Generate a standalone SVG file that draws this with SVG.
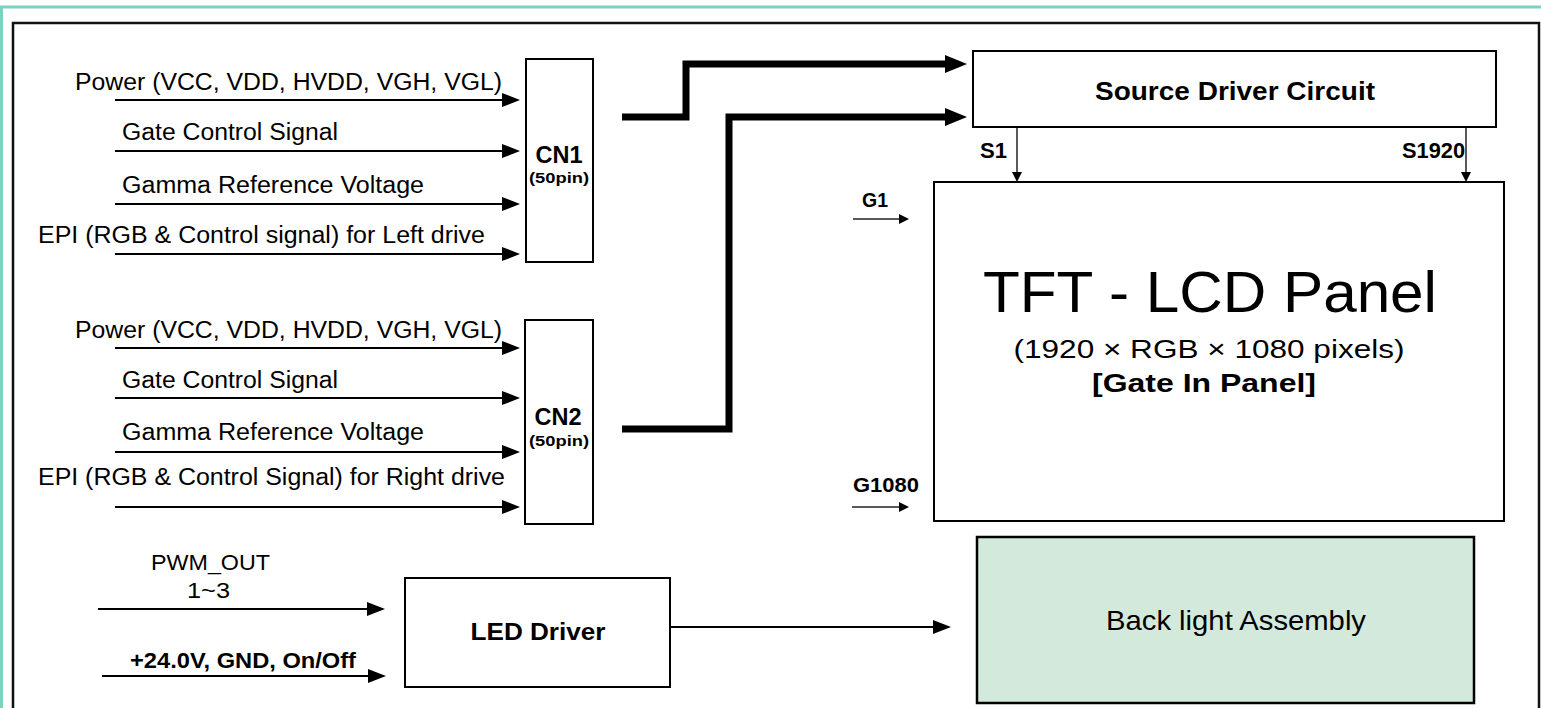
<svg xmlns="http://www.w3.org/2000/svg" width="1541" height="708" viewBox="0 0 1541 708">
<style>
.t{font-family:"Liberation Sans",Arial,Helvetica,sans-serif;fill:#000}
.b{font-weight:bold}
.m{text-anchor:middle}
.box{fill:#fff;stroke:#000;stroke-width:2}
.sig{stroke:#000;stroke-width:2.2;fill:none}
.thick{stroke:#000;stroke-width:7;fill:none}
.fine{stroke:#222;stroke-width:1.5;fill:none}
</style>
<defs>
<marker id="ah" markerUnits="userSpaceOnUse" viewBox="0 0 18 14" refX="14" refY="7" markerWidth="18" markerHeight="14" orient="auto"><path d="M0,0 L18,7 L0,14 z" fill="#000"/></marker>
<marker id="ahT" markerUnits="userSpaceOnUse" viewBox="0 0 22 18" refX="12" refY="9" markerWidth="22" markerHeight="18" orient="auto"><path d="M0,0 L22,9 L0,18 z" fill="#000"/></marker>
<marker id="ahS" markerUnits="userSpaceOnUse" viewBox="0 0 10 10" refX="8" refY="5" markerWidth="10" markerHeight="10" orient="auto"><path d="M0,0 L10,5 L0,10 z" fill="#000"/></marker>
</defs>
<rect width="1541" height="708" fill="#fff"/>
<g id="frame">
<path d="M1.5,708 V7 H1541" fill="none" stroke="#7fd0bf" stroke-width="3"/>
<path d="M13,708 V23 H1539 V708" fill="none" stroke="#111" stroke-width="2.5"/>
</g>
<g id="connectors">
<line class="sig" x1="115" y1="100" x2="516" y2="100" marker-end="url(#ah)"/>
<line class="sig" x1="115" y1="151" x2="516" y2="151" marker-end="url(#ah)"/>
<line class="sig" x1="115" y1="204" x2="516" y2="204" marker-end="url(#ah)"/>
<line class="sig" x1="115" y1="254" x2="516" y2="254" marker-end="url(#ah)"/>
<line class="sig" x1="115" y1="348" x2="516" y2="348" marker-end="url(#ah)"/>
<line class="sig" x1="115" y1="398" x2="516" y2="398" marker-end="url(#ah)"/>
<line class="sig" x1="115" y1="452" x2="516" y2="452" marker-end="url(#ah)"/>
<line class="sig" x1="115" y1="507" x2="516" y2="507" marker-end="url(#ah)"/>
<path class="thick" d="M622,117 H686 V64 H957" marker-end="url(#ahT)"/>
<path class="thick" d="M622,429 H729 V117 H957" marker-end="url(#ahT)"/>
<line class="fine" x1="1017" y1="127" x2="1017" y2="180" marker-end="url(#ahS)"/>
<line class="fine" x1="1466" y1="127" x2="1466" y2="180" marker-end="url(#ahS)"/>
<line class="fine" x1="853" y1="219" x2="907" y2="219" marker-end="url(#ahS)"/>
<line class="fine" x1="852" y1="507" x2="907" y2="507" marker-end="url(#ahS)"/>
<line class="sig" x1="98" y1="609" x2="381" y2="609" marker-end="url(#ah)"/>
<line class="sig" x1="102" y1="676" x2="382" y2="676" marker-end="url(#ah)"/>
<line class="sig" x1="670" y1="627" x2="947" y2="627" marker-end="url(#ah)"/>
</g>
<g id="labels-cn1">
<text class="t" x="75" y="90" font-size="23" textLength="427" lengthAdjust="spacingAndGlyphs">Power (VCC, VDD, HVDD, VGH, VGL)</text>
<text class="t" x="122" y="140" font-size="23" textLength="216" lengthAdjust="spacingAndGlyphs">Gate Control Signal</text>
<text class="t" x="122" y="193" font-size="23" textLength="302" lengthAdjust="spacingAndGlyphs">Gamma Reference Voltage</text>
<text class="t" x="38" y="243" font-size="23" textLength="447" lengthAdjust="spacingAndGlyphs">EPI (RGB &amp; Control signal) for Left drive</text>
</g>
<g id="labels-cn2">
<text class="t" x="75" y="338" font-size="23" textLength="427" lengthAdjust="spacingAndGlyphs">Power (VCC, VDD, HVDD, VGH, VGL)</text>
<text class="t" x="122" y="388" font-size="23" textLength="216" lengthAdjust="spacingAndGlyphs">Gate Control Signal</text>
<text class="t" x="122" y="440" font-size="23" textLength="302" lengthAdjust="spacingAndGlyphs">Gamma Reference Voltage</text>
<text class="t" x="38" y="485" font-size="23" textLength="467" lengthAdjust="spacingAndGlyphs">EPI (RGB &amp; Control Signal) for Right drive</text>
</g>
<g id="cn1">
<rect class="box" x="526" y="59" width="67" height="203"/>
<text class="t b m" x="559" y="163" font-size="23" textLength="47" lengthAdjust="spacingAndGlyphs">CN1</text>
<text class="t b m" x="559" y="183" font-size="15" textLength="60" lengthAdjust="spacingAndGlyphs">(50pin)</text>
</g>
<g id="cn2">
<rect class="box" x="525" y="320" width="68" height="204"/>
<text class="t b m" x="558" y="425" font-size="23" textLength="47" lengthAdjust="spacingAndGlyphs">CN2</text>
<text class="t b m" x="559" y="446" font-size="15" textLength="60" lengthAdjust="spacingAndGlyphs">(50pin)</text>
</g>
<g id="source-driver">
<rect class="box" x="973" y="51" width="523" height="76"/>
<text class="t b m" x="1235" y="100" font-size="25" textLength="280" lengthAdjust="spacingAndGlyphs">Source Driver Circuit</text>
</g>
<g id="source-labels">
<text class="t b" x="980" y="158" font-size="22" textLength="27" lengthAdjust="spacingAndGlyphs">S1</text>
<text class="t b" x="1402" y="158" font-size="22" textLength="63" lengthAdjust="spacingAndGlyphs">S1920</text>
</g>
<g id="gate-labels">
<text class="t b" x="862" y="207" font-size="21" textLength="26" lengthAdjust="spacingAndGlyphs">G1</text>
<text class="t b" x="853" y="492" font-size="21" textLength="66" lengthAdjust="spacingAndGlyphs">G1080</text>
</g>
<g id="panel">
<rect class="box" x="934" y="182" width="570" height="339"/>
<text class="t m" x="1210" y="312" font-size="57" textLength="454" lengthAdjust="spacingAndGlyphs">TFT - LCD Panel</text>
<text class="t m" x="1209" y="358" font-size="26" textLength="391" lengthAdjust="spacingAndGlyphs">(1920 × RGB × 1080 pixels)</text>
<text class="t b m" x="1204" y="392" font-size="26" textLength="224" lengthAdjust="spacingAndGlyphs">[Gate In Panel]</text>
</g>
<g id="led-inputs">
<text class="t" x="151" y="570" font-size="22" textLength="119" lengthAdjust="spacingAndGlyphs">PWM_OUT</text>
<text class="t" x="187" y="598" font-size="22" textLength="43" lengthAdjust="spacingAndGlyphs">1~3</text>
<text class="t b" x="130" y="668" font-size="22" textLength="226" lengthAdjust="spacingAndGlyphs">+24.0V, GND, On/Off</text>
</g>
<g id="led-driver">
<rect class="box" x="405" y="578" width="265" height="109"/>
<text class="t b m" x="538" y="640" font-size="23" textLength="135" lengthAdjust="spacingAndGlyphs">LED Driver</text>
</g>
<g id="backlight">
<rect x="977" y="537" width="497" height="166" fill="#d3e9dc" stroke="#000" stroke-width="2.5"/>
<text class="t" x="1106" y="630" font-size="28" textLength="260" lengthAdjust="spacingAndGlyphs">Back light Assembly</text>
</g>
</svg>
